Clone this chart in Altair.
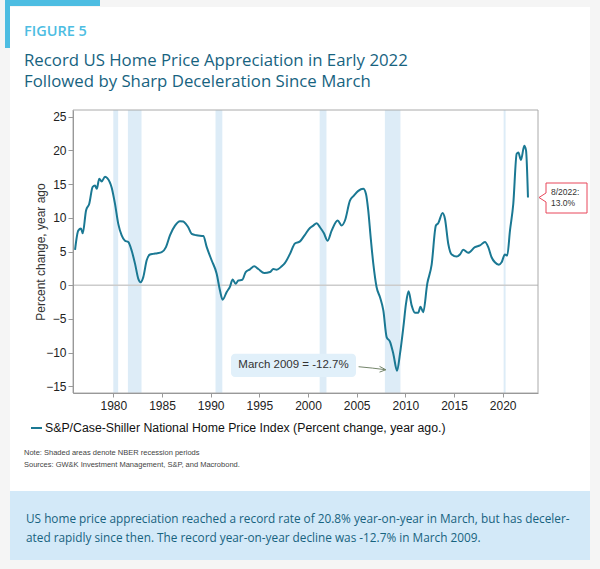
import altair as alt
import pandas as pd

# ---- data ----
years = [1976.07, 1976.4, 1976.68, 1976.86, 1977.2, 1977.53, 1977.88, 1978.12, 1978.3, 1978.56,
         1978.8, 1979.15, 1979.38, 1979.83, 1980.17, 1980.51, 1980.86, 1981.2, 1981.54, 1981.89,
         1982.23, 1982.57, 1982.81, 1983.08, 1983.43, 1983.77, 1984.1, 1984.52, 1984.97, 1985.41,
         1985.82, 1986.34, 1986.85, 1987.19, 1987.45, 1987.7, 1988.05, 1988.56, 1989.25, 1989.6,
         1990.1, 1990.62, 1990.96, 1991.23, 1991.65, 1991.99, 1992.26, 1992.57, 1992.84, 1993.25,
         1993.6, 1994.04, 1994.48, 1994.9, 1995.51, 1996.1, 1996.44, 1996.78, 1997.3, 1997.64,
         1998.15, 1998.66, 1999.18, 1999.65, 2000.2, 2000.55, 2000.89, 2001.23, 2001.64, 2002.02,
         2002.43, 2003.05, 2003.46, 2003.8, 2004.31, 2004.72, 2005.17, 2005.68, 2005.96, 2006.19,
         2006.44, 2006.71, 2007.05, 2007.4, 2007.74, 2008.08, 2008.43, 2008.77, 2009.15, 2009.45,
         2009.8, 2010.07, 2010.33, 2010.65, 2010.99, 2011.33, 2011.55, 2011.84, 2012.25, 2012.7,
         2013.14, 2013.38, 2013.83, 2014.07, 2014.41, 2014.76, 2015.27, 2015.61, 2015.95, 2016.46,
         2017.15, 2017.67, 2018.18, 2018.52, 2018.86, 2019.2, 2019.61, 2019.89, 2020.23, 2020.47,
         2020.75, 2021.09, 2021.44, 2021.61, 2021.88, 2022.22, 2022.4, 2022.6]
values = [5.25, 8.1, 8.4, 7.7, 11.1, 12.1, 14.6, 14.8, 14.3, 15.8,
          15.4, 16.1, 15.9, 14.5, 12.1, 9.1, 7.4, 6.6, 6.4, 5.1,
          3.2, 0.95, 0.45, 1.2, 3.7, 4.55, 4.65, 4.75, 4.9, 5.65,
          7.4, 8.85, 9.5, 9.45, 9.1, 8.6, 7.6, 7.4, 7.3, 5.65,
          3.7, 1.7, -0.8, -2.15, -1.0, -0.2, 0.85, 0.2, 0.7, 0.8,
          1.95, 2.35, 2.8, 2.4, 1.8, 1.95, 2.4, 2.3, 2.8, 3.3,
          4.65, 6.2, 6.5, 7.4, 8.5, 8.85, 9.2, 8.6, 7.7, 6.6,
          8.1, 9.6, 8.85, 9.6, 12.55, 13.3, 14.0, 14.3, 13.55, 11.1,
          7.1, 3.2, -0.3, -1.8, -3.75, -7.7, -8.4, -10.2, -12.7, -10.2,
          -6.2, -2.75, -0.9, -3.0, -4.1, -4.1, -3.2, -4.0, 0.2, 3.0,
          8.85, 9.2, 10.7, 9.85, 6.15, 4.55, 4.25, 4.55, 5.25, 4.8,
          5.65, 5.9, 6.4, 5.65, 4.15, 3.4, 3.05, 3.4, 4.55, 4.4,
          8.1, 12.05, 19.5, 19.7, 18.6, 20.7, 20.0, 13.0]
rec_start = [1980.0, 1981.5, 1990.5, 2001.2, 2007.9, 2020.1]
rec_end = [1980.5, 1982.9, 1991.2, 2001.9, 2009.5, 2020.3]
x_ticks = [1980, 1985, 1990, 1995, 2000, 2005, 2010, 2015, 2020]
y_ticks = [-15, -10, -5, 0, 5, 10, 15, 20, 25]

fig_label = "FIGURE 5"
title_lines = ["Record US Home Price Appreciation in Early 2022",
               "Followed by Sharp Deceleration Since March"]
y_title = "Percent change, year ago"
series_name = "S&P/Case-Shiller National Home Price Index (Percent change, year ago.)"
notes = ["Note: Shaded areas denote NBER recession periods",
         "Sources: GW&K Investment Management, S&P, and Macrobond."]
summary = ["US home price appreciation reached a record rate of 20.8% year-on-year in March, but has deceler-",
           "ated rapidly since then. The record year-on-year decline was -12.7% in March 2009."]
trough_label = "March 2009 = -12.7%"
last_label = ["8/2022:", "13.0%"]

# ---- layout ----
W, H = 465, 283
PL, PT, PR, PB = 73, 110, 62, 176
LINE_C = "#1a7893"
BAND_C = "#ddecf7"
TEAL_T = "#17637f"
AX_FONT = "Liberation Sans"

xs = alt.Scale(domain=[1975.86, 2023.63], nice=False, zero=False)
ys = alt.Scale(domain=[-16, 26], nice=False, zero=False)

X_AX = alt.Axis(values=x_ticks, format="d", title=None, grid=False, zindex=2,
                domainColor="#999999", tickColor="#999999", tickSize=4,
                labelFont=AX_FONT, labelFontSize=12, labelColor="#222222", labelPadding=3)
Y_AX = alt.Axis(values=y_ticks, title=y_title, grid=False, zindex=2,
                domainColor="#999999", tickColor="#999999", tickSize=5,
                labelFont=AX_FONT, labelFontSize=12, labelColor="#222222", labelPadding=2,
                titleFont=AX_FONT, titleFontSize=12, titleFontWeight="normal",
                titleColor="#333333", titleAngle=270, titleX=-33, titleY=H / 2,
                titleAlign="center", titleBaseline="middle")

df = pd.DataFrame({"year": years, "value": values})
bands = pd.DataFrame({"start": rec_start, "end": rec_end})
one = pd.DataFrame({"k": [0]})


def rect(x1, x2, y1, y2, color, **kw):
    return alt.Chart(one).mark_rect(color=color, **kw).encode(
        x=alt.value(x1), x2=alt.value(x2), y=alt.value(y1), y2=alt.value(y2))


def rule(x1, x2, y1, y2, color, width=1.0):
    return alt.Chart(one).mark_rule(color=color, strokeWidth=width).encode(
        x=alt.value(x1), x2=alt.value(x2), y=alt.value(y1), y2=alt.value(y2))


def text(s, x, y, size, color, font=AX_FONT, weight="normal", align="left", baseline="middle"):
    return alt.Chart(one).mark_text(
        text=s, fontSize=size, color=color, font=font, fontWeight=weight,
        align=align, baseline=baseline).encode(x=alt.value(x), y=alt.value(y))


layers = []
# page decoration
layers.append(rect(10 - PL, 590 - PL, 7 - PT, 491 - PT, "white"))
layers.append(rect(5 - PL, 100 - PL, 0 - PT, 6 - PT, "#4dbde2"))
layers.append(rect(5 - PL, 10 - PL, 0 - PT, 48 - PT, "#4dbde2"))
layers.append(rect(10 - PL, 590 - PL, 491 - PT, 560 - PT, "#d3e9f8"))

# headings
layers.append(text(fig_label, 24 - PL, 36 - PT, 14.5, "#4dbde2", font="Open Sans", weight=600, baseline="alphabetic"))
layers.append(text(title_lines[0], 24 - PL, 66 - PT, 16.8, TEAL_T, font="Open Sans", weight=500, baseline="alphabetic"))
layers.append(text(title_lines[1], 24 - PL, 87 - PT, 16.8, TEAL_T, font="Open Sans", weight=500, baseline="alphabetic"))

# recession bands
layers.append(alt.Chart(bands).mark_rect(color=BAND_C).encode(
    x=alt.X("start:Q", scale=xs, axis=X_AX),
    x2="end:Q",
    y=alt.value(0), y2=alt.value(H)))

# zero line
layers.append(alt.Chart(one).mark_rule(color="#cccccc", strokeWidth=1.5).encode(
    y=alt.datum(0, scale=ys, axis=Y_AX), x=alt.value(0), x2=alt.value(W)))

# plot frame
layers.append(alt.Chart(one).mark_rect(fill=None, stroke="#aaaaaa", strokeWidth=1).encode(
    x=alt.value(0), x2=alt.value(W), y=alt.value(0), y2=alt.value(H)))

# main line
layers.append(alt.Chart(df).mark_line(color=LINE_C, strokeWidth=2, interpolate="monotone").encode(
    x=alt.X("year:Q", scale=xs, axis=X_AX),
    y=alt.Y("value:Q", scale=ys, axis=Y_AX)))

# trough annotation (in data coordinates)
ann_box = pd.DataFrame({"x1": [1992.09], "x2": [2004.93], "y1": [-10.16], "y2": [-13.62]})
layers.append(alt.Chart(ann_box).mark_rect(color="#e1f0fa", cornerRadius=4).encode(
    x=alt.X("x1:Q", scale=xs, axis=X_AX), x2="x2:Q",
    y=alt.Y("y1:Q", scale=ys, axis=Y_AX), y2="y2:Q"))
ann_txt = pd.DataFrame({"x": [1998.51], "y": [-11.88], "t": [trough_label]})
layers.append(alt.Chart(ann_txt).mark_text(fontSize=11.5, font=AX_FONT, color="#333333").encode(
    x=alt.X("x:Q", scale=xs, axis=X_AX), y=alt.Y("y:Q", scale=ys, axis=Y_AX), text="t:N"))
arrow_head = pd.DataFrame({"x": [2007.35, 2008.0, 2007.35], "y": [-12.05, -12.55, -12.9], "o": [0, 1, 2]})
arrow_shaft = pd.DataFrame({"x": [2005.2, 2006.6, 2008.0], "y": [-12.1, -12.3, -12.55], "o": [0, 1, 2]})
for a in (arrow_shaft, arrow_head):
    layers.append(alt.Chart(a).mark_line(color="#74856b", strokeWidth=1).encode(
        x=alt.X("x:Q", scale=xs, axis=X_AX), y=alt.Y("y:Q", scale=ys, axis=Y_AX), order="o:Q"))

# last value callout (right margin)
RED = "#e8475a"
layers.append(alt.Chart(one).mark_rect(fill="white", stroke=RED, strokeWidth=1).encode(
    x=alt.value(546 - PL), x2=alt.value(587 - PL), y=alt.value(183 - PT), y2=alt.value(213 - PT)))
layers.append(rule(546 - PL, 546 - PL, 193 - PT, 202 - PT, "white", 2))
layers.append(rule(546 - PL, 539 - PL, 193 - PT, 197.5 - PT, RED, 1))
layers.append(rule(539 - PL, 546 - PL, 197.5 - PT, 202 - PT, RED, 1))
layers.append(text(last_label[0], 551 - PL, 192 - PT, 8.5, "#333333"))
layers.append(text(last_label[1], 551 - PL, 203 - PT, 8.5, "#333333"))

# legend
layers.append(rule(31 - PL, 42 - PL, 428 - PT, 428 - PT, LINE_C, 2))
layers.append(text(series_name, 45 - PL, 428 - PT, 12.3, "#111111"))

# notes
layers.append(text(notes[0], 24 - PL, 453 - PT, 7.5, "#444444"))
layers.append(text(notes[1], 24 - PL, 465 - PT, 7.5, "#444444"))

# summary box text
layers.append(text(summary[0], 26 - PL, 519 - PT, 11.8, TEAL_T, font="Open Sans", weight=500))
layers.append(text(summary[1], 26 - PL, 538 - PT, 11.8, TEAL_T, font="Open Sans", weight=500))

chart = alt.layer(*layers).properties(
    width=W, height=H,
    padding={"left": PL, "top": PT, "right": PR, "bottom": PB},
    autosize=alt.AutoSizeParams(type="none"),
    background="#f5f5f5",
).configure_view(stroke=None)

chart.save("out.html", embed_options={"renderer": "svg", "actions": False})
